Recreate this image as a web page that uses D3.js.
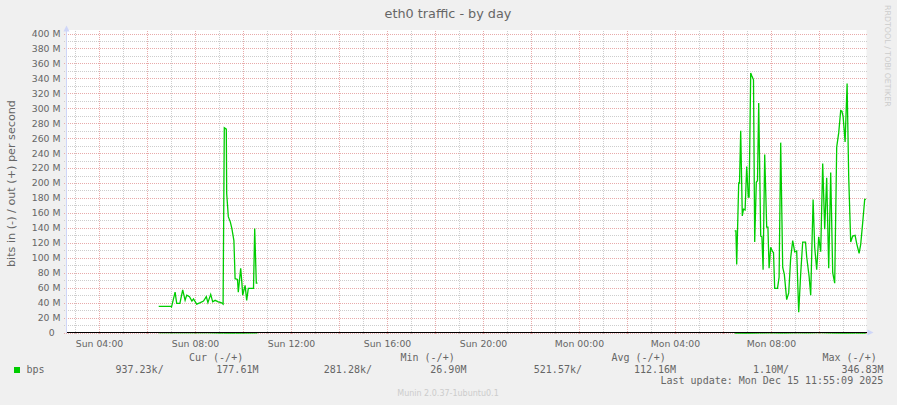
<!DOCTYPE html>
<html><head><meta charset="utf-8">
<script src="https://cdn.jsdelivr.net/npm/d3@7"></script>
<style>html,body{margin:0;padding:0;background:#f0f0f0;}svg{display:block;}</style>
</head><body><svg id="c" width="897" height="405"></svg>
<script>
// ---------- data ----------
const chartTitle = "eth0 traffic - by day";
const yAxisTitle = "bits in (-) / out (+) per second";
const watermark = "RRDTOOL / TOBI OETIKER";
const footer = "Munin 2.0.37-1ubuntu0.1";
const yTicks = [0,20,40,60,80,100,120,140,160,180,200,220,240,260,280,300,320,340,360,380,400]; // M
const xTickLabels = ["Sun 04:00","Sun 08:00","Sun 12:00","Sun 16:00","Sun 20:00","Mon 00:00","Mon 04:00","Mon 08:00"];
const xTickDates = ["2025-12-14 04:00","2025-12-14 08:00","2025-12-14 12:00","2025-12-14 16:00","2025-12-14 20:00","2025-12-15 00:00","2025-12-15 04:00","2025-12-15 08:00"];

// out (+) series, Sunday cluster (values in M bits/s)
const sunOutTimes = ["06:28","06:58","07:00","07:09","07:13","07:21","07:28","07:34","07:38","07:45","07:51","07:55","08:03","08:12","08:20","08:27","08:31","08:38","08:43","08:49","08:57","09:04","09:09","09:12","09:17","09:18","09:22","09:27","09:31","09:36","09:39","09:45","09:47","09:53","09:56","09:58","10:04","10:08","10:12","10:25","10:28","10:32","10:35"];
const sunOutValues = [35,35,34,54,39,39,57,43,50,48,42,45,38,40,42,48,40,51,41,43,41,40,38,274,272,186,155,148,139,123,72,71,54,86,66,50,63,43,59,59,139,66,66];
// out (+) series, Monday cluster
const monOutTimes = ["06:28","06:31","06:33","06:38","06:40","06:43","06:47","06:50","06:54","06:58","07:02","07:04","07:08","07:11","07:15","07:18","07:22","07:25","07:28","07:33","07:36","07:39","07:43","07:48","07:51","07:54","07:58","08:03","08:05","08:08","08:15","08:19","08:23","08:28","08:32","08:38","08:43","08:48","08:53","08:58","09:03","09:08","09:13","09:18","09:25","09:28","09:34","09:38","09:44","09:48","09:53","09:58","10:03","10:08","10:13","10:18","10:23","10:28","10:33","10:38","10:43","10:48","10:53","10:56","10:59","11:04","11:09","11:13","11:18","11:23","11:29","11:33","11:39","11:43","11:48","11:53","11:56"];
const monOutValues = [136,136,91,200,200,270,156,165,164,222,181,181,347,343,338,121,201,203,307,129,128,84,238,141,141,86,114,108,107,59,59,74,254,87,78,44,53,100,123,108,109,27,79,121,121,101,75,50,178,114,84,128,108,226,138,207,86,214,80,66,248,267,297,296,289,255,333,208,121,129,130,119,106,118,147,178,178];
// in (-) series (M bits/s, plotted negative)
const sunInTimes = ["06:28","07:30","08:30","09:10","09:40","10:35"];
const sunInValues = [0.4,0.5,0.45,0.9,1.0,0.7];
const monInTimes = ["06:28","07:00","07:30","08:00","08:30","09:00","09:30","10:00","10:30","11:00","11:30","11:56"];
const monInValues = [0.9,1.1,0.8,0.6,0.9,0.5,0.7,0.3,0.8,1.0,0.9,0.94];

// legend
const legendHeaders = ["Cur (-/+)","Min (-/+)","Avg (-/+)","Max (-/+)"];
const legendSeries = "bps";
const legendValues = ["937.23k/","177.61M","281.28k/","26.90M","521.57k/","112.16M","1.10M/","346.83M"];
const lastUpdate = "Last update: Mon Dec 15 11:55:09 2025";

// ---------- drawing ----------
(function(){
const parse = d3.timeParse("%Y-%m-%d %H:%M");
const svg = d3.select("#c");
const W = 897, H = 405;
const pLeft = 66.5, pRight = 866.5, pTop = 30, pBottom = 332.5;

const x = d3.scaleTime()
  .domain([new Date(2025,11,14,2,37,30), new Date(2025,11,15,11,57,30)])
  .range([pLeft, pRight]);
const y = d3.scaleLinear().domain([0,400]).range([332.5, 33.5]);

const fontSans = "'DejaVu Sans', Verdana, sans-serif";
const fontMono = "'DejaVu Sans Mono', monospace";
const fg = "#666666";
const minorCol = "#cdcdcd", majorCol = "#e8aaaa";

svg.append("rect").attr("width",W).attr("height",H).attr("fill","#f0f0f0");
svg.append("rect").attr("x",pLeft).attr("y",pTop).attr("width",pRight-pLeft).attr("height",334-pTop).attr("fill","#ffffff");

const grid = svg.append("g").attr("shape-rendering","crispEdges");
const minorY = d3.range(10,400,20);
grid.selectAll(".hm").data(minorY).join("line")
  .attr("x1",pLeft-3).attr("x2",pRight).attr("y1",d=>Math.round(y(d))+0.5).attr("y2",d=>Math.round(y(d))+0.5)
  .attr("stroke",minorCol).attr("stroke-dasharray","1,1");
const allHours = d3.timeHour.every(1).range(x.domain()[0], x.domain()[1]);
const hours = allHours.filter(d=>d.getHours()%2===1);
grid.selectAll(".vm").data(hours).join("line")
  .attr("x1",d=>Math.floor(x(d))+0.5).attr("x2",d=>Math.floor(x(d))+0.5).attr("y1",31).attr("y2",335)
  .attr("stroke",minorCol).attr("stroke-dasharray","1,1");
grid.selectAll(".hM").data(yTicks).join("line")
  .attr("x1",pLeft-3).attr("x2",pRight).attr("y1",d=>Math.round(y(d))+0.5).attr("y2",d=>Math.round(y(d))+0.5)
  .attr("stroke",majorCol).attr("stroke-dasharray","1,1");
const twoHours = allHours.filter(d=>d.getHours()%2===0);
grid.selectAll(".vM").data(twoHours).join("line")
  .attr("x1",d=>Math.floor(x(d))+0.5).attr("x2",d=>Math.floor(x(d))+0.5).attr("y1",31).attr("y2",335)
  .attr("stroke",majorCol).attr("stroke-dasharray","1,1");

svg.append("clipPath").attr("id","clip").append("rect")
  .attr("x",pLeft).attr("y",pTop).attr("width",pRight-pLeft).attr("height",334-pTop);

const line = d3.line().x(d=>x(d.t)).y(d=>y(d.v));
function series(day, times, values, sign){
  return times.map((t,i)=>({t:parse(day+" "+t), v:sign*values[i]}));
}
const dataG = svg.append("g").attr("clip-path","url(#clip)");
[series("2025-12-14",sunInTimes,sunInValues,-1), series("2025-12-15",monInTimes,monInValues,-1)]
 .forEach(s=>{
  dataG.append("path").datum(s).attr("d",line).attr("fill","none")
    .attr("stroke","#00cc00").attr("stroke-width",1);
 });

const axisCol = "#cfd6f8";
svg.append("line").attr("x1",pLeft).attr("x2",pLeft).attr("y1",pBottom).attr("y2",29)
  .attr("stroke",axisCol).attr("shape-rendering","crispEdges");
svg.append("path").attr("d",`M${pLeft-3},31.5 L${pLeft+3},31.5 L${pLeft},25.5 Z`).attr("fill",axisCol);
svg.append("line").attr("x1",pLeft).attr("x2",pRight+2).attr("y1",pBottom).attr("y2",pBottom)
  .attr("stroke",axisCol).attr("shape-rendering","crispEdges");
svg.append("path").attr("d",`M${pRight+1},${pBottom-3} L${pRight+1},${pBottom+3} L${pRight+7},${pBottom} Z`).attr("fill",axisCol);
svg.append("line").attr("x1",pLeft).attr("x2",pRight).attr("y1",pBottom).attr("y2",pBottom)
  .attr("stroke","#000").attr("shape-rendering","crispEdges");

[series("2025-12-14",sunOutTimes,sunOutValues,1), series("2025-12-15",monOutTimes,monOutValues,1)]
 .forEach(s=>{
  dataG.append("path").datum(s).attr("d",line).attr("fill","none")
    .attr("stroke","#00cc00").attr("stroke-width",1.3).attr("stroke-linejoin","miter");
 });

svg.append("g").selectAll("text").data(yTicks).join("text")
  .attr("x",60.5).attr("y",d=>y(d)+3.4).attr("text-anchor","end")
  .attr("font-family",fontSans).attr("font-size","9.3px").attr("fill",fg)
  .text(d=> d===0 ? "0\u00a0\u00a0" : d+" M");

svg.append("g").selectAll("text").data(xTickLabels).join("text")
  .attr("x",(d,i)=>Math.floor(x(parse(xTickDates[i])))+0.5).attr("y",346.5).attr("text-anchor","middle")
  .attr("font-family",fontSans).attr("font-size","9.3px").attr("fill",fg)
  .text(d=>d);

svg.append("text").attr("x",448).attr("y",17.5).attr("text-anchor","middle")
  .attr("font-family",fontSans).attr("font-size","12.8px").attr("fill",fg).text(chartTitle);
svg.append("text").attr("transform","translate(14.5,183.5) rotate(-90)").attr("text-anchor","middle")
  .attr("font-family",fontSans).attr("font-size","11.2px").attr("fill",fg).text(yAxisTitle);
svg.append("text").attr("transform","translate(885.3,5) rotate(90)").attr("text-anchor","start")
  .attr("font-family",fontSans).attr("font-size","7.9px").attr("fill","#cccccc").text(watermark);
svg.append("text").attr("x",448).attr("y",396).attr("text-anchor","middle")
  .attr("font-family",fontSans).attr("font-size","8px").attr("fill","#cccccc").text(footer);

const lg = svg.append("g").attr("font-family",fontMono).attr("font-size","10px").attr("fill",fg);
const headerX = [189, 400.5, 611.5, 822.5];
lg.selectAll(".h").data(legendHeaders).join("text").attr("x",(d,i)=>headerX[i]).attr("y",360.5).text(d=>d);
svg.append("rect").attr("x",14).attr("y",367).attr("width",6).attr("height",6).attr("fill","#00cc00");
lg.append("text").attr("x",26.5).attr("y",372.5).text(legendSeries);
const valueX = [115.5, 216.3, 323.8, 430.3, 533.8, 634, 753, 841.5];
lg.selectAll(".v").data(legendValues).join("text").attr("x",(d,i)=>valueX[i]).attr("y",372.5).text(d=>d);
lg.append("text").attr("x",660.5).attr("y",384.2).text(lastUpdate);
})();
</script>
</body></html>
